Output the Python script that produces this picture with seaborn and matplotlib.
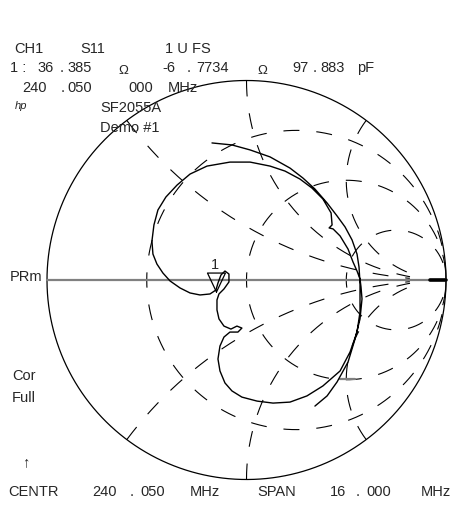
import numpy as np
import pandas as pd
import seaborn as sns
import matplotlib.pyplot as plt

trace_re = [0.343, 0.404, 0.454, 0.509, 0.544, 0.569, 0.579, 0.574, 0.569, 0.554,
            0.534, 0.509, 0.469, 0.434, 0.414, 0.429, 0.424, 0.383, 0.328, 0.268,
            0.193, 0.118, 0.018, -0.083, -0.198, -0.283, -0.348, -0.404, -0.444, -0.464,
            -0.474, -0.469, -0.449, -0.419, -0.383, -0.333, -0.283, -0.233, -0.183, -0.153,
            -0.143, -0.128, -0.108, -0.088, -0.088, -0.113, -0.138, -0.148, -0.148, -0.138,
            -0.113, -0.078, -0.048, -0.023, -0.043, -0.083, -0.113, -0.133, -0.143, -0.133,
            -0.108, -0.073, -0.023, 0.053, 0.133, 0.218, 0.303, 0.383, 0.469, 0.519,
            0.554, 0.569, 0.569, 0.569, 0.564, 0.554, 0.529, 0.494, 0.454, 0.404,
            0.343, 0.283, 0.218, 0.118, 0.018, -0.073, -0.173]
trace_im = [-0.632, -0.581, -0.511, -0.411, -0.296, -0.195, -0.095, -0.035, 0.005, 0.045,
            0.090, 0.155, 0.221, 0.256, 0.261, 0.276, 0.336, 0.406, 0.461, 0.506,
            0.546, 0.571, 0.591, 0.591, 0.571, 0.531, 0.476, 0.416, 0.351, 0.276,
            0.195, 0.130, 0.080, 0.035, -0.005, -0.040, -0.065, -0.075, -0.070, -0.050,
            -0.015, 0.025, 0.045, 0.030, -0.010, -0.045, -0.070, -0.100, -0.150, -0.195,
            -0.231, -0.246, -0.231, -0.241, -0.261, -0.261, -0.286, -0.331, -0.396, -0.456,
            -0.516, -0.556, -0.587, -0.607, -0.617, -0.612, -0.581, -0.531, -0.456, -0.361,
            -0.261, -0.160, -0.080, -0.015, 0.065, 0.130, 0.201, 0.266, 0.321, 0.386,
            0.456, 0.511, 0.561, 0.617, 0.652, 0.677, 0.687]

# marker 1 readout (ohms), Z0 = 50
Z0 = 50.0
marker_r = 36.385
marker_x = -6.7734

# graticule
r_circles = [1 / 3, 1.0, 3.0]
x_arcs = [0.5, 1.0, 2.0, -0.5, -1.0, -2.0]
x_arc_rmax = 10.0

# small extra marks on the screen
ref_tick_re = [0.469, 0.544]
ref_tick_im = [-0.496, -0.496]
open_seg_re = [0.92, 1.0]

# pixel layout of the screen
W, H = 450, 506
CX, CY, RPX = 246.5, 281.0, 199.5

sns.set_style("white")
plt.rcParams['font.family'] = ['Liberation Sans', 'DejaVu Sans']
plt.rcParams['lines.scale_dashes'] = False

fig = plt.figure(figsize=(W / 100, H / 100), dpi=100)
ax = fig.add_axes([0, 0, 1, 1])
ax.set_xlim(-CX / RPX, (W - CX) / RPX)
ax.set_ylim((CY - H) / RPX, CY / RPX)
ax.axis('off')

dash = (0, (11.5, 12.2))

# constant resistance circles
for r in r_circles:
    c, rad = r / (1 + r), 1 / (1 + r)
    for th in (np.linspace(np.pi, 0, 600), np.linspace(-np.pi, 0, 600)):
        ax.plot(c + rad * np.cos(th), rad * np.sin(th), color='black', lw=0.8,
                ls=(6, (11.5, 12.2)))

# constant reactance arcs
rr = np.linspace(0, x_arc_rmax, 5000)
for xv in x_arcs:
    g = (rr + 1j * xv - 1) / (rr + 1j * xv + 1)
    ax.plot(g.real, g.imag, color='black', lw=0.8, ls=dash)

# outer circle
th = np.linspace(0, 2 * np.pi, 800)
ax.plot(np.cos(th), np.sin(th), color='black', lw=0.9)

# real axis
ax.plot([-1, 1], [0, 0], color='#808080', lw=1.6, zorder=3)
ax.plot(open_seg_re, [0, 0], color='black', lw=2.6, zorder=4)
ax.plot(ref_tick_re, ref_tick_im, color='#808080', lw=1.6, zorder=4)

# trace
df = pd.DataFrame({'re': trace_re, 'im': trace_im})
sns.lineplot(data=df, x='re', y='im', sort=False, estimator=None, color='black',
             lw=1.0, ax=ax, zorder=5)

# marker triangle with tip on the marker point
zm = complex(marker_r, marker_x) / Z0
gm = (zm - 1) / (zm + 1)
tri_h, tri_w = 0.095, 0.045
ax.plot([gm.real, gm.real - tri_w, gm.real + tri_w, gm.real],
        [gm.imag + 0.03, gm.imag + 0.03 + tri_h, gm.imag + 0.03 + tri_h, gm.imag + 0.03],
        color='black', lw=0.9, zorder=6)
ax.text(gm.real - 0.008, gm.imag + 0.03 + tri_h + 0.01, '1', ha='center', va='bottom',
        fontsize=10.5)


def txt(x, y, s, size=10.5, **kw):
    fig.text(x / W, 1 - y / H, s, ha='left', va='baseline', fontsize=size, **kw)


# header
txt(14, 53, 'CH1')
txt(80, 53, 'S11')
txt(165, 53, '1 U FS')
for x, s in [(10, '1 :'), (37, '36'), (60, '.'), (67, '385'), (162, '-6'), (187, '.'),
             (196, '7734'), (292, '97'), (313, '.'), (320, '883'), (357, 'pF')]:
    txt(x, 72, s)
txt(118, 74, 'Ω', size=9.5)
txt(257, 74, 'Ω', size=9.5)
for x, s in [(22, '240'), (61, '.'), (67, '050'), (128, '000'), (168, 'MHz')]:
    txt(x, 92, s)
txt(15, 109, 'hp', size=8, style='italic')
txt(100, 112, 'SF2055A')
txt(100, 132, 'Demo #1')

# left side annotations
txt(10, 281, 'PRm')
txt(12, 380, 'Cor')
txt(12, 402, 'Full')
txt(22, 466, '↑')

# footer
for x, s in [(8, 'CENTR'), (92, '240'), (130, '.'), (140, '050'), (190, 'MHz'),
             (257, 'SPAN'), (330, '16'), (356, '.'), (366, '000'), (421, 'MHz')]:
    txt(x, 496, s)

fig.savefig('out.png', dpi=100)
